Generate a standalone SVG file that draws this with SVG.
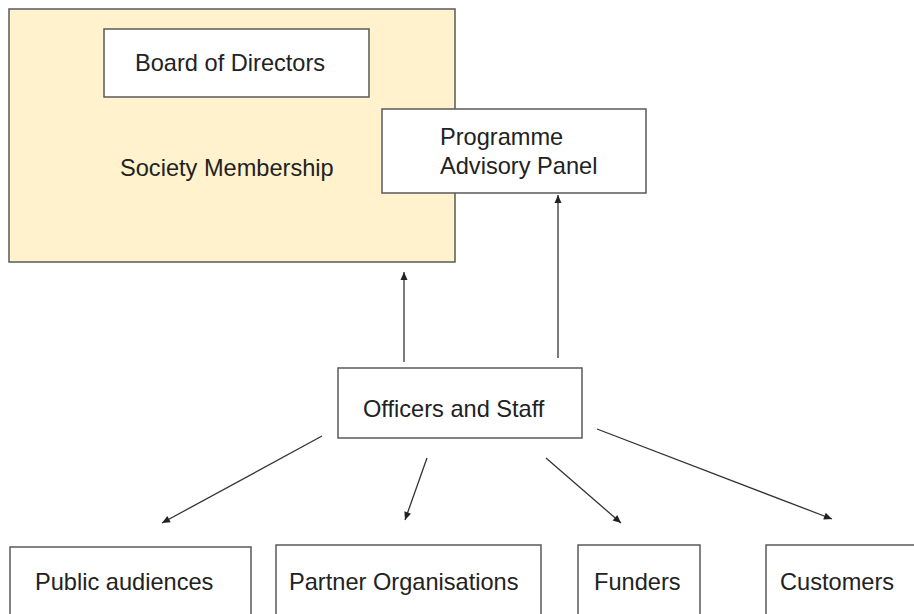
<svg xmlns="http://www.w3.org/2000/svg" width="914" height="614" viewBox="0 0 914 614">
<style>
.box{fill:#ffffff;stroke:#595959;stroke-width:1.5}
.soc{fill:#fff2cc;stroke:#595959;stroke-width:1.5}
.t{font-family:"Liberation Sans",Arial,sans-serif;font-size:23.6px;fill:#222222}
.c{stroke:#333333;stroke-width:1.3;fill:none;marker-end:url(#ah)}
</style>
<defs>
<marker id="ah" markerUnits="userSpaceOnUse" markerWidth="10" markerHeight="10" viewBox="0 0 10 10" refX="9" refY="5" orient="auto">
<path d="M1,1.5 L9,5 L1,8.5 Z" fill="#222222"/>
</marker>
</defs>
<rect width="914" height="614" fill="#ffffff"/>
<g id="society">
<rect class="soc" x="9" y="9" width="446" height="253"/>
<text class="t" x="120" y="176">Society Membership</text>
</g>
<g id="board">
<rect class="box" x="104" y="29" width="265" height="68"/>
<text class="t" x="135" y="71">Board of Directors</text>
</g>
<g id="panel">
<rect class="box" x="382" y="109" width="264" height="84"/>
<text class="t" x="440" y="145">Programme</text>
<text class="t" x="440" y="174">Advisory Panel</text>
</g>
<g id="officers">
<rect class="box" x="338" y="368" width="244" height="70"/>
<text class="t" x="363" y="417">Officers and Staff</text>
</g>
<g id="public">
<rect class="box" x="10" y="547" width="241" height="80"/>
<text class="t" x="35" y="590">Public audiences</text>
</g>
<g id="partner">
<rect class="box" x="276" y="545" width="265" height="80"/>
<text class="t" x="289" y="590">Partner Organisations</text>
</g>
<g id="funders">
<rect class="box" x="578" y="545" width="122" height="80"/>
<text class="t" x="594" y="590">Funders</text>
</g>
<g id="customers">
<rect class="box" x="766" y="545" width="160" height="80"/>
<text class="t" x="780" y="590">Customers</text>
</g>
<g id="connectors">
<line class="c" x1="404" y1="362" x2="404" y2="272"/>
<line class="c" x1="558" y1="358" x2="558" y2="195"/>
<line class="c" x1="322" y1="436" x2="162" y2="523"/>
<line class="c" x1="427" y1="458" x2="405" y2="520"/>
<line class="c" x1="546" y1="458" x2="621" y2="523"/>
<line class="c" x1="597" y1="429" x2="832" y2="519"/>
</g>
</svg>
